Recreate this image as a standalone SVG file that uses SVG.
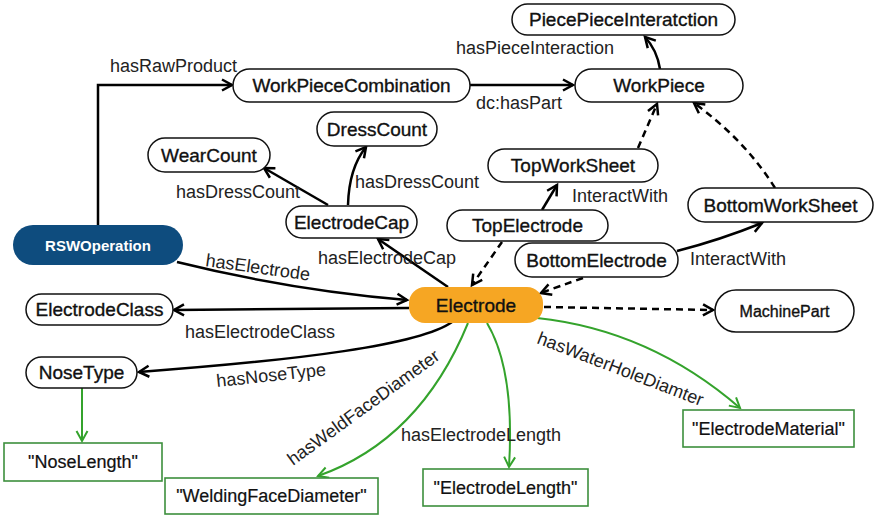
<svg xmlns="http://www.w3.org/2000/svg" width="875" height="517" viewBox="0 0 875 517">
<style>
.nd{fill:#fff;stroke:#111;stroke-width:1.5}
.lit{fill:#fff;stroke:#3d8f3d;stroke-width:1.6}
.nt{font-family:"Liberation Sans",Arial,sans-serif;font-size:19px;fill:#111;stroke:#111;stroke-width:0.35;text-anchor:middle}
.lt{font-family:"Liberation Sans",Arial,sans-serif;font-size:18px;fill:#111;stroke:#111;stroke-width:0.2;text-anchor:middle}
.el{font-family:"Liberation Sans",Arial,sans-serif;font-size:18px;fill:#222}
.e{fill:none;stroke:#000;stroke-width:2.5;marker-end:url(#ab)}
.d{fill:none;stroke:#000;stroke-width:2.5;stroke-dasharray:7 5;marker-end:url(#ab)}
.g{fill:none;stroke:#34a32c;stroke-width:2;marker-end:url(#ag)}
</style>
<defs>
<marker id="ab" viewBox="-2 -2 16 16" refX="11" refY="6" markerWidth="16" markerHeight="16" markerUnits="userSpaceOnUse" orient="auto">
<path d="M1,0.5 L11,6 L1,11.5" fill="none" stroke="#000" stroke-width="2.5"/>
</marker>
<marker id="ag" viewBox="-2 -2 16 16" refX="11" refY="6" markerWidth="16" markerHeight="16" markerUnits="userSpaceOnUse" orient="auto">
<path d="M1,0.5 L11,6 L1,11.5" fill="none" stroke="#34a32c" stroke-width="2"/>
</marker>
</defs>
<rect width="875" height="517" fill="#fff"/>
<g id="connectors">
<path class="e" d="M98,225 V85 H232"/>
<path class="e" d="M470,85 H573"/>
<path class="e" d="M660,69 Q657,50 645,37"/>
<path class="e" d="M328,205 L264,168"/>
<path class="e" d="M348,205 Q349,168 366,147"/>
<path class="e" d="M448,287 L378,239"/>
<path class="e" d="M177,262 Q290,290 407,300"/>
<path class="e" d="M409,308 L174,310"/>
<path class="e" d="M452,322 C420,345 300,360 139,372"/>
<path class="e" d="M542,210 L557,185"/>
<path class="e" d="M677,251 Q720,240 762,223"/>
<path class="d" d="M502,242 Q488,262 472,285"/>
<path class="d" d="M583,278 Q560,286 541,293"/>
<path class="d" d="M638,148 L657,104"/>
<path class="d" d="M775,188 Q745,140 694,103"/>
<path class="d" d="M544,307 L713,310"/>
<path class="g" d="M468,323 Q420,440 318,476"/>
<path class="g" d="M487,323 Q515,370 509,467"/>
<path class="g" d="M537,318 Q650,330 740,408"/>
<path class="g" d="M82,388 V441"/>
<text class="el" x="110" y="72">hasRawProduct</text>
<text class="el" x="476" y="109">dc:hasPart</text>
<text class="el" x="456" y="54">hasPieceInteraction</text>
<text class="el" x="176" y="198">hasDressCount</text>
<text class="el" x="355" y="188">hasDressCount</text>
<text class="el" x="318" y="264">hasElectrodeCap</text>
<text class="el" x="572" y="202">InteractWith</text>
<text class="el" x="690" y="265">InteractWith</text>
<text class="el" x="185" y="338">hasElectrodeClass</text>
<text class="el" x="401" y="441">hasElectrodeLength</text>
<text class="el" transform="translate(205,266) rotate(8)">hasElectrode</text>
<text class="el" transform="translate(217,387) rotate(-6)">hasNoseType</text>
<text class="el" transform="translate(293,466) rotate(-36)">hasWeldFaceDiameter</text>
<text class="el" transform="translate(536,343) rotate(21)">hasWaterHoleDiamter</text>
</g>
<g id="PiecePieceInteratction"><rect class="nd" x="512" y="4" width="223" height="31" rx="15.5"/><text class="nt" x="623.5" y="26">PiecePieceInteratction</text></g>
<g id="WorkPiece"><rect class="nd" x="575" y="69" width="168" height="33" rx="16.5"/><text class="nt" x="659" y="92">WorkPiece</text></g>
<g id="WorkPieceCombination"><rect class="nd" x="233" y="69" width="237" height="33" rx="16.5"/><text class="nt" x="351.5" y="92">WorkPieceCombination</text></g>
<g id="DressCount"><rect class="nd" x="317" y="112" width="120" height="34" rx="17"/><text class="nt" x="377" y="136">DressCount</text></g>
<g id="WearCount"><rect class="nd" x="148" y="138" width="122" height="34" rx="17"/><text class="nt" x="209" y="162">WearCount</text></g>
<g id="ElectrodeCap"><rect class="nd" x="286" y="206" width="131" height="32" rx="16"/><text class="nt" x="351.5" y="229">ElectrodeCap</text></g>
<g id="RSWOperation"><rect x="13" y="225" width="170" height="40" rx="20" fill="#0e4c7e"/><text x="98" y="250.5" text-anchor="middle" font-family="'Liberation Sans',Arial,sans-serif" font-size="15" font-weight="bold" fill="#fff">RSWOperation</text></g>
<g id="TopWorkSheet"><rect class="nd" x="488" y="149" width="170" height="33" rx="16.5"/><text class="nt" x="573" y="172">TopWorkSheet</text></g>
<g id="TopElectrode"><rect class="nd" x="447" y="210" width="161" height="31" rx="15.5"/><text class="nt" x="527.5" y="232">TopElectrode</text></g>
<g id="BottomWorkSheet"><rect class="nd" x="688" y="188" width="185" height="34" rx="17"/><text class="nt" x="780.5" y="212">BottomWorkSheet</text></g>
<g id="BottomElectrode"><rect class="nd" x="515" y="243" width="163" height="34" rx="17"/><text class="nt" x="596.5" y="267">BottomElectrode</text></g>
<g id="Electrode"><rect x="409" y="287" width="134" height="36" rx="16" fill="#f6a623"/><text class="nt" x="476" y="312">Electrode</text></g>
<g id="MachinePart"><rect class="nd" x="715" y="290" width="139" height="42" rx="21"/><text class="nt" x="784.5" y="317" style="font-size:16px">MachinePart</text></g>
<g id="ElectrodeClass"><rect class="nd" x="26" y="294" width="147" height="31" rx="15.5"/><text class="nt" x="99.5" y="316">ElectrodeClass</text></g>
<g id="NoseType"><rect class="nd" x="26" y="357" width="111" height="31" rx="15.5"/><text class="nt" x="81.5" y="379">NoseType</text></g>
<g id="NoseLength"><rect class="lit" x="4" y="443" width="158" height="38"/><text class="lt" x="83" y="468">"NoseLength"</text></g>
<g id="WeldingFaceDiameter"><rect class="lit" x="165" y="478" width="213" height="36"/><text class="lt" x="271.5" y="502">"WeldingFaceDiameter"</text></g>
<g id="ElectrodeLength"><rect class="lit" x="423" y="469" width="165" height="37"/><text class="lt" x="505.5" y="494">"ElectrodeLength"</text></g>
<g id="ElectrodeMaterial"><rect class="lit" x="683" y="410" width="171" height="37"/><text class="lt" x="768.5" y="435">"ElectrodeMaterial"</text></g>
</svg>
